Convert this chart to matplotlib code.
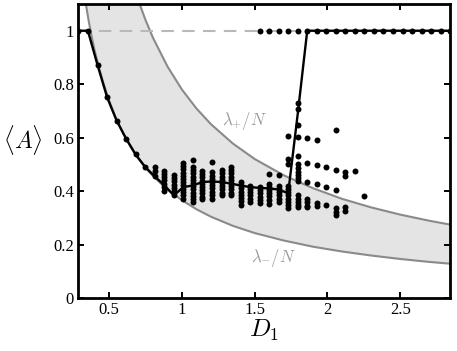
import matplotlib
matplotlib.use("Agg")
import matplotlib.pyplot as plt
import numpy as np

plt.rcParams['mathtext.fontset'] = 'cm'

# ---- data ----
# mean <A> curve at each D1 value
mean_D = [0.289, 0.354, 0.420, 0.486, 0.551, 0.617, 0.682, 0.748, 0.813, 0.879,
          0.944, 1.010, 1.075, 1.141, 1.206, 1.272, 1.337, 1.403, 1.468, 1.534,
          1.599, 1.665, 1.730, 1.796, 1.861, 1.927, 1.992, 2.058, 2.123, 2.189,
          2.254, 2.320, 2.385, 2.451, 2.516, 2.582, 2.647, 2.713, 2.778, 2.844]
mean_A = [1.0, 1.0, 0.872, 0.751, 0.664, 0.596, 0.537, 0.490, 0.455, 0.422,
          0.384, 0.415, 0.421, 0.434, 0.436, 0.434, 0.428, 0.421, 0.415, 0.412,
          0.410, 0.406, 0.392, 0.69, 1.0, 1.0, 1.0, 1.0, 1.0, 1.0,
          1.0, 1.0, 1.0, 1.0, 1.0, 1.0, 1.0, 1.0, 1.0, 1.0]

# individual runs (dots), grouped by D1 column
runs = {
    0.289: [1.0], 0.354: [1.0], 0.420: [0.872], 0.486: [0.751], 0.551: [0.664],
    0.617: [0.596], 0.682: [0.537], 0.748: [0.490],
    0.813: [0.49, 0.475, 0.455],
    0.879: [0.477, 0.465, 0.452, 0.44, 0.428, 0.415, 0.40],
    0.944: [0.46, 0.448, 0.436, 0.424, 0.412, 0.40, 0.385],
    1.010: [0.505, 0.493, 0.481, 0.469, 0.457, 0.445, 0.433, 0.421, 0.409, 0.397,
            0.385, 0.37],
    1.075: [0.515, 0.49, 0.478, 0.466, 0.454, 0.442, 0.430, 0.418, 0.406, 0.394,
            0.382, 0.37, 0.36],
    1.141: [0.475, 0.463, 0.451, 0.439, 0.427, 0.415, 0.403, 0.391, 0.379, 0.37],
    1.206: [0.51, 0.47, 0.458, 0.446, 0.434, 0.422, 0.41, 0.398, 0.386, 0.372],
    1.272: [0.478, 0.466, 0.454, 0.442, 0.430, 0.418, 0.406, 0.394, 0.385],
    1.337: [0.49, 0.478, 0.466, 0.454, 0.442, 0.430, 0.418, 0.406, 0.394, 0.385],
    1.403: [0.434, 0.422, 0.41, 0.398, 0.386, 0.374, 0.362, 0.347],
    1.468: [0.42, 0.408, 0.396, 0.384, 0.372, 0.36],
    1.534: [1.0, 0.415, 0.403, 0.391, 0.379, 0.367, 0.357],
    1.599: [1.0, 0.465, 0.428, 0.416, 0.404, 0.392, 0.380, 0.368, 0.353],
    1.665: [1.0, 0.459, 0.42, 0.408, 0.396, 0.384, 0.372, 0.36],
    1.730: [1.0, 0.605, 0.52, 0.50, 0.42, 0.408, 0.396, 0.384, 0.372, 0.36, 0.347,
            0.335],
    1.796: [1.0, 0.73, 0.708, 0.646, 0.602, 0.53, 0.50, 0.485, 0.473, 0.461, 0.449,
            0.437, 0.384, 0.372, 0.36, 0.348, 0.34],
    1.861: [1.0, 0.598, 0.505, 0.434, 0.37, 0.358, 0.346, 0.34],
    1.927: [1.0, 0.59, 0.497, 0.425, 0.357, 0.345],
    1.992: [1.0, 0.49, 0.415, 0.347],
    2.058: [1.0, 0.63, 0.48, 0.403, 0.335, 0.322, 0.309],
    2.123: [1.0, 0.47, 0.455, 0.34, 0.325],
    2.189: [1.0, 0.475],
    2.254: [1.0, 0.38],
    2.320: [1.0], 2.385: [1.0], 2.451: [1.0], 2.516: [1.0], 2.582: [1.0],
    2.647: [1.0], 2.713: [1.0], 2.778: [1.0], 2.844: [1.0],
}

# eigenvalue band lambda_+/N and lambda_-/N
band_D = [0.28, 0.30, 0.32, 0.34, 0.36, 0.38, 0.40, 0.43, 0.46, 0.50, 0.55, 0.60,
          0.65, 0.70, 0.75, 0.80, 0.90, 1.0, 1.1, 1.2, 1.35, 1.5, 1.7, 1.9,
          2.1, 2.3, 2.5, 2.7, 2.85]
band_up = [2.79, 2.60, 2.44, 2.29, 2.17, 2.05, 1.95, 1.81, 1.70, 1.56, 1.42, 1.30,
           1.20, 1.114, 1.04, 0.975, 0.867, 0.78, 0.709, 0.65, 0.578, 0.52, 0.459,
           0.411, 0.371, 0.339, 0.312, 0.289, 0.274]
band_lo = [1.33, 1.24, 1.17, 1.10, 1.035, 0.978, 0.927, 0.862, 0.805, 0.738,
           0.669, 0.611, 0.563, 0.522, 0.487, 0.457, 0.406, 0.366, 0.332, 0.304,
           0.270, 0.243, 0.215, 0.192, 0.174, 0.159, 0.146, 0.135, 0.128]

xticks = [0.5, 1, 1.5, 2, 2.5]
xticklabels = ["0.5", "1", "1.5", "2", "2.5"]
yticks = [0, 0.2, 0.4, 0.6, 0.8, 1.0]
yticklabels = ["0", "0.2", "0.4", "0.6", "0.8", "1"]

# ---- figure ----
fig = plt.figure(figsize=(4.57, 3.51), dpi=100)
ax = fig.add_axes([78/457, 1-298/351, (450-78)/457, (298-4)/351])

ax.fill_between(band_D, band_lo, band_up, color='#e4e4e4', lw=0, zorder=1)
ax.plot(band_D, band_up, color='#8a8a8a', lw=1.5, zorder=2)
ax.plot(band_D, band_lo, color='#8a8a8a', lw=1.5, zorder=2)
ax.axhline(1.0, color='#b8b8b8', lw=1.5, dashes=(6, 4), zorder=2)

sx, sy = [], []
for d, vals in runs.items():
    for v in vals:
        sx.append(d)
        sy.append(v)
ax.plot(sx, sy, 'o', color='black', ms=4.3, mew=0, zorder=4)
ax.plot(mean_D, mean_A, '-', color='black', lw=1.7, zorder=3)

ax.text(1.43, 0.664, r'$\lambda_{+}/N$', color='#999999', fontsize=12,
        ha='center', va='center', zorder=5)
ax.text(1.63, 0.15, r'$\lambda_{-}/N$', color='#999999', fontsize=12,
        ha='center', va='center', zorder=5)

ax.set_xlim(0.286, 2.842)
ax.set_ylim(0, 1.1)
ax.set_xticks(xticks)
ax.set_xticklabels(xticklabels, fontfamily='Liberation Serif', fontsize=12)
ax.set_yticks(yticks)
ax.set_yticklabels(yticklabels, fontfamily='Liberation Serif', fontsize=12)
ax.tick_params(direction='in', length=4, width=1.4, top=True, right=True, pad=3)
for s in ax.spines.values():
    s.set_linewidth(2.0)

ax.set_xlabel(r'$D_1$', fontsize=18, labelpad=0)
fig.text(23/457, 1-140/351, r'$\langle A\rangle$', fontsize=17,
         ha='center', va='center')

fig.savefig('out.png', dpi=100)
